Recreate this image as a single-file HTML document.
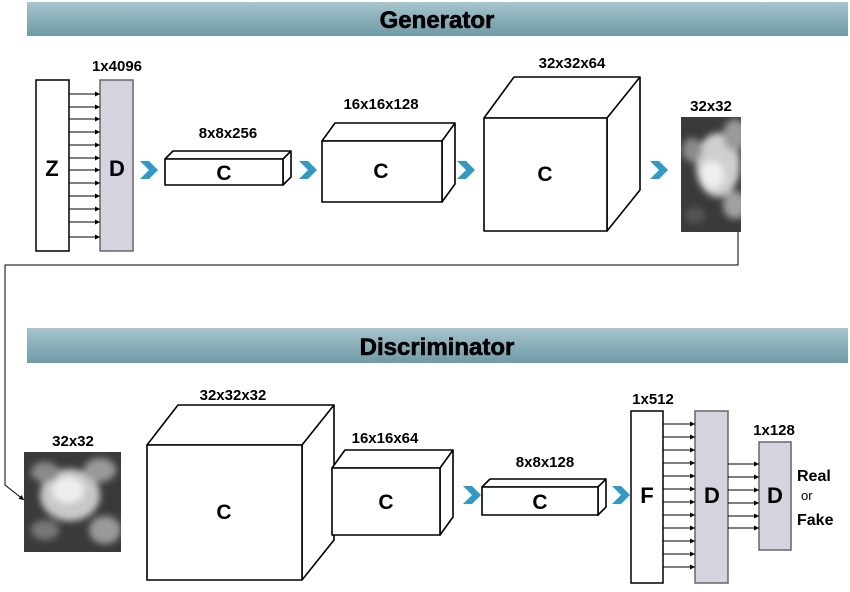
<!DOCTYPE html>
<html><head><style>
body{margin:0;background:#fff;}
svg text{font-family:"Liberation Sans",sans-serif;font-weight:bold;}
</style></head><body>
<svg width="850" height="587" viewBox="0 0 850 587" xmlns="http://www.w3.org/2000/svg">
<defs>
<linearGradient id="ban" x1="0" y1="0" x2="0" y2="1">
<stop offset="0" stop-color="#a6c5cc"/><stop offset="1" stop-color="#6e9ba6"/>
</linearGradient>
<marker id="ah" markerWidth="6" markerHeight="6" refX="5" refY="3" orient="auto"><path d="M0,0.5 L5,3 L0,5.5z" fill="#000"/></marker>
<filter id="bl"><feGaussianBlur stdDeviation="3.5"/></filter>
<clipPath id="c1"><rect x="681" y="117" width="60" height="115"/></clipPath>
<clipPath id="c2"><rect x="24" y="452" width="97" height="100"/></clipPath>
</defs>
<rect x="27" y="2" width="821" height="34" fill="url(#ban)"/>
<text x="437" y="28" font-size="24" text-anchor="middle" stroke="#000" stroke-width="0.6">Generator</text>
<rect x="27" y="328" width="821" height="35" fill="url(#ban)"/>
<text x="437" y="355" font-size="24" text-anchor="middle" stroke="#000" stroke-width="0.6">Discriminator</text>

<g stroke="#000" stroke-width="1.5">
<rect x="36" y="80" width="33" height="171" fill="#fff"/>
<rect x="100" y="80" width="33" height="171" fill="#d6d3df" stroke="#666"/>
</g>
<g stroke="#000" stroke-width="1" marker-end="url(#ah)">
<line x1="69" y1="94" x2="100" y2="94"/><line x1="69" y1="107" x2="100" y2="107"/><line x1="69" y1="119" x2="100" y2="119"/><line x1="69" y1="132" x2="100" y2="132"/><line x1="69" y1="145" x2="100" y2="145"/><line x1="69" y1="158" x2="100" y2="158"/><line x1="69" y1="170" x2="100" y2="170"/><line x1="69" y1="183" x2="100" y2="183"/><line x1="69" y1="196" x2="100" y2="196"/><line x1="69" y1="209" x2="100" y2="209"/><line x1="69" y1="222" x2="100" y2="222"/><line x1="69" y1="237" x2="100" y2="237"/>
</g>
<text x="52" y="176" font-size="22" text-anchor="middle">Z</text>
<text x="117" y="176" font-size="22" text-anchor="middle">D</text>
<text x="117" y="71" font-size="15" text-anchor="middle">1x4096</text>

<g fill="#2e9bc6">
<path d="M140,161 L149,161 L158,170 L149,179 L140,179 L149,170z"/>
<path d="M299,161 L308,161 L317,170 L308,179 L299,179 L308,170z"/>
<path d="M457,161 L466,161 L475,170 L466,179 L457,179 L466,170z"/>
<path d="M650,161 L659,161 L668,170 L659,179 L650,179 L659,170z"/>
<path d="M310,486 L319,486 L328,495 L319,504 L310,504 L319,495z"/>
<path d="M463,486 L472,486 L481,495 L472,504 L463,504 L472,495z"/>
<path d="M612,486 L621,486 L630,495 L621,504 L612,504 L621,495z"/>
</g>

<g fill="#fff" stroke="#000" stroke-width="1.6" stroke-linejoin="round">
<path d="M165,159 L173,151 L291,151 L283,159z M283,159 L291,151 L291,177 L283,185z"/>
<rect x="165" y="159" width="118" height="26"/>
<path d="M322,141 L335,123 L455,123 L442,141z M442,141 L455,123 L455,184 L442,202z"/>
<rect x="322" y="141" width="120" height="61"/>
<path d="M484,118 L514,77 L640,77 L607,118z M607,118 L640,77 L640,190 L607,231z"/>
<rect x="484" y="118" width="123" height="113"/>
<path d="M147,445 L178,405 L334,405 L302,445z M302,445 L334,405 L334,540 L302,580z"/>
<rect x="147" y="445" width="155" height="135"/>
<path d="M332,468 L345,450 L453,450 L440,468z M440,468 L453,450 L453,517 L440,535z"/>
<rect x="332" y="468" width="108" height="67"/>
<path d="M482,487 L490,479 L606,479 L598,487z M598,487 L606,479 L606,507 L598,515z"/>
<rect x="482" y="487" width="116" height="28"/>
</g>
<g font-size="21" text-anchor="middle">
<text x="224" y="180">C</text>
<text x="381" y="178">C</text>
<text x="545" y="181">C</text>
<text x="224" y="519">C</text>
<text x="386" y="509">C</text>
<text x="540" y="509">C</text>
</g>
<g font-size="15" text-anchor="middle">
<text x="228" y="138">8x8x256</text>
<text x="381" y="109">16x16x128</text>
<text x="572" y="68">32x32x64</text>
<text x="711" y="111">32x32</text>
<text x="233" y="400">32x32x32</text>
<text x="385" y="443">16x16x64</text>
<text x="545" y="467">8x8x128</text>
<text x="73" y="446">32x32</text>
<text x="653" y="404">1x512</text>
<text x="774" y="435">1x128</text>
</g>

<g clip-path="url(#c1)">
<rect x="681" y="117" width="60" height="115" fill="#3a3a3a"/>
<g filter="url(#bl)">
<ellipse cx="718" cy="165" rx="22" ry="32" fill="#cfcfcf"/><ellipse cx="712" cy="175" rx="12" ry="14" fill="#eee"/><ellipse cx="735" cy="135" rx="12" ry="16" fill="#9a9a9a"/><ellipse cx="692" cy="150" rx="10" ry="12" fill="#8a8a8a"/><ellipse cx="735" cy="205" rx="12" ry="14" fill="#a0a0a0"/><ellipse cx="695" cy="215" rx="10" ry="8" fill="#555"/>
</g></g>
<g clip-path="url(#c2)">
<rect x="24" y="452" width="97" height="100" fill="#3a3a3a"/>
<g filter="url(#bl)">
<ellipse cx="70" cy="495" rx="30" ry="26" fill="#c8c8c8"/><ellipse cx="68" cy="490" rx="16" ry="13" fill="#eee"/><ellipse cx="100" cy="470" rx="16" ry="12" fill="#999"/><ellipse cx="45" cy="472" rx="14" ry="10" fill="#8a8a8a"/><ellipse cx="105" cy="530" rx="16" ry="14" fill="#9a9a9a"/><ellipse cx="45" cy="530" rx="14" ry="10" fill="#777"/>
</g></g>

<path d="M738,232 L738,265 L5,265 L5,485 L24,500" fill="none" stroke="#000" stroke-width="1" marker-end="url(#ah)"/>

<g stroke="#000" stroke-width="1.5">
<rect x="631" y="411" width="32" height="172" fill="#fff"/>
<rect x="695" y="411" width="33" height="172" fill="#d6d3df" stroke="#666"/>
<rect x="759" y="442" width="32" height="108" fill="#d6d3df" stroke="#666"/>
</g>
<g stroke="#000" stroke-width="1" marker-end="url(#ah)">
<line x1="663" y1="424" x2="695" y2="424"/><line x1="663" y1="437" x2="695" y2="437"/><line x1="663" y1="450" x2="695" y2="450"/><line x1="663" y1="463" x2="695" y2="463"/><line x1="663" y1="476" x2="695" y2="476"/><line x1="663" y1="489" x2="695" y2="489"/><line x1="663" y1="502" x2="695" y2="502"/><line x1="663" y1="515" x2="695" y2="515"/><line x1="663" y1="528" x2="695" y2="528"/><line x1="663" y1="541" x2="695" y2="541"/><line x1="663" y1="554" x2="695" y2="554"/><line x1="663" y1="567" x2="695" y2="567"/>
<line x1="728" y1="464" x2="759" y2="464"/><line x1="728" y1="477" x2="759" y2="477"/><line x1="728" y1="490" x2="759" y2="490"/><line x1="728" y1="503" x2="759" y2="503"/><line x1="728" y1="516" x2="759" y2="516"/><line x1="728" y1="528" x2="759" y2="528"/>
</g>
<text x="647" y="503" font-size="22" text-anchor="middle">F</text>
<text x="712" y="503" font-size="22" text-anchor="middle">D</text>
<text x="775" y="503" font-size="22" text-anchor="middle">D</text>
<text x="797" y="481" font-size="16">Real</text>
<text x="801" y="500" font-size="13" style="font-weight:normal">or</text>
<text x="797" y="525" font-size="16">Fake</text>
</svg>
</body></html>
